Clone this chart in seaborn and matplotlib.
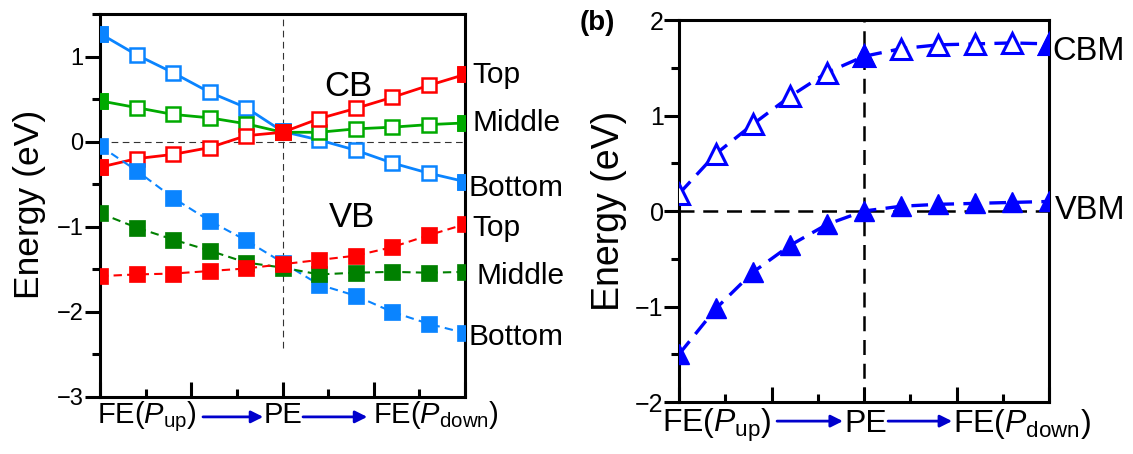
import numpy as np
import pandas as pd
import matplotlib
matplotlib.use("Agg")
import matplotlib.pyplot as plt
import seaborn as sns

# ---------------- data ----------------
steps = list(range(11))          # FE(P_up) ... PE (index 5) ... FE(P_down)
cb_bottom = [1.27, 1.02, 0.81, 0.58, 0.40, 0.12, 0.02, -0.10, -0.25, -0.37, -0.47]
cb_middle = [0.48, 0.40, 0.32, 0.28, 0.21, 0.11, 0.11, 0.15, 0.17, 0.20, 0.22]
cb_top    = [-0.30, -0.20, -0.15, -0.07, 0.07, 0.11, 0.27, 0.39, 0.52, 0.66, 0.79]
vb_bottom = [-0.05, -0.34, -0.66, -0.93, -1.16, -1.42, -1.68, -1.81, -2.00, -2.14, -2.25]
vb_middle = [-0.84, -1.01, -1.15, -1.28, -1.42, -1.48, -1.56, -1.54, -1.53, -1.54, -1.53]
vb_top    = [-1.58, -1.56, -1.55, -1.52, -1.49, -1.44, -1.39, -1.34, -1.24, -1.10, -0.97]
cbm = [0.18, 0.60, 0.91, 1.20, 1.45, 1.62, 1.70, 1.74, 1.75, 1.76, 1.75]
vbm = [-1.50, -1.02, -0.64, -0.36, -0.14, 0.00, 0.05, 0.07, 0.08, 0.09, 0.10]
filled_cb_idx = [0, 5, 10]
filled_cbm_idx = [5, 10]
band_labels = ["Top", "Middle", "Bottom"]
xtick_labels = ["FE($P_{\\rm up}$)", "PE", "FE($P_{\\rm down}$)"]

C_BLUE = "#0A84FF"
C_GREEN_CB = "#00AA00"
C_GREEN_VB = "#008000"
C_RED = "#FF0000"
C_DBLUE = "#0000FF"
C_ARROW = "#0000CC"

sns.set_style("ticks")
plt.rcParams["font.family"] = ["Liberation Sans", "DejaVu Sans"]
plt.rcParams["mathtext.fontset"] = "custom"
plt.rcParams["mathtext.rm"] = "Liberation Sans"
plt.rcParams["mathtext.it"] = "Liberation Sans:italic"
plt.rcParams["mathtext.bf"] = "Liberation Sans:bold"
for k in ["text.color", "axes.labelcolor", "xtick.color", "ytick.color",
          "axes.edgecolor"]:
    plt.rcParams[k] = "black"

fig = plt.figure(figsize=(11.33, 4.54), dpi=100)
ax1 = fig.add_axes([0.0883, 0.1256, 0.3222, 0.8436])
ax2 = fig.add_axes([0.5993, 0.1145, 0.3266, 0.8414])

def sub(vals, idx):
    return [steps[i] for i in idx], [vals[i] for i in idx]

# ---------------- panel (a) ----------------
ax1.axhline(0, color="#333333", lw=0.8, dashes=(6, 4), zorder=1)
ax1.plot([5, 5], [-2.42, 1.5], color="#333333", lw=0.8, dashes=(6, 4), zorder=1)

for vals, col in [(cb_bottom, C_BLUE), (cb_middle, C_GREEN_CB), (cb_top, C_RED)]:
    sns.lineplot(x=steps, y=vals, ax=ax1, color=col, lw=2.0, marker="s",
                 markersize=10, markerfacecolor="white", markeredgecolor=col,
                 markeredgewidth=1.8, zorder=3)
    fx, fy = sub(vals, filled_cb_idx)
    sns.lineplot(x=fx, y=fy, ax=ax1, color=col, linestyle="none", marker="s",
                 markersize=11, markerfacecolor=col, markeredgecolor=col,
                 markeredgewidth=0.5, zorder=3)

for vals, col in [(vb_bottom, C_BLUE), (vb_middle, C_GREEN_VB), (vb_top, C_RED)]:
    sns.lineplot(x=steps, y=vals, ax=ax1, color=col, lw=1.5, dashes=(4, 2.5),
                 marker="s", markersize=11, markerfacecolor=col,
                 markeredgecolor=col, markeredgewidth=0.5, zorder=4)

ax1.set_xlim(0, 10)
ax1.set_ylim(-3, 1.5)
ax1.set_yticks([-3, -2, -1, 0, 1])
ax1.set_yticks(np.arange(-3, 1.51, 0.5), minor=True)

ax1.text(6.8, 0.65, "CB", fontsize=25, ha="center", va="center")
ax1.text(6.9, -0.89, "VB", fontsize=25, ha="center", va="center")
lab_pos = [(10.2, 0.78), (10.2, 0.22), (10.1, -0.55),
           (10.2, -1.02), (10.3, -1.58), (10.1, -2.29)]
for (lx, ly), lab in zip(lab_pos, band_labels * 2):
    ax1.text(lx, ly, lab, fontsize=21.5, ha="left", va="center", clip_on=False)

ax1.set_ylabel("Energy (eV)", fontsize=25.5, rotation=90, ha="center",
               va="center", rotation_mode="default")
ax1.yaxis.set_label_coords(-0.192, 0.504)

# ---------------- panel (b) ----------------
ax2.axhline(0, color="black", lw=1.8, dashes=(6, 3.5), zorder=1)
ax2.axvline(5, color="black", lw=1.8, dashes=(6, 3.5), zorder=1)

sns.lineplot(x=steps, y=cbm, ax=ax2, color=C_DBLUE, lw=2.4, dashes=(5, 2.8),
             marker="^", markersize=14, markerfacecolor="white",
             markeredgecolor=C_DBLUE, markeredgewidth=2.2, zorder=3)
fx, fy = sub(cbm, filled_cbm_idx)
sns.lineplot(x=fx, y=fy, ax=ax2, color=C_DBLUE, linestyle="none", marker="^",
             markersize=14, markerfacecolor=C_DBLUE, markeredgecolor=C_DBLUE,
             markeredgewidth=2.2, zorder=3)
sns.lineplot(x=steps, y=vbm, ax=ax2, color=C_DBLUE, lw=2.4, dashes=(5, 2.8),
             marker="^", markersize=14, markerfacecolor=C_DBLUE,
             markeredgecolor=C_DBLUE, markeredgewidth=1.0, zorder=3)

ax2.set_xlim(0, 10)
ax2.set_ylim(-2, 2)
ax2.set_yticks([-2, -1, 0, 1, 2])
ax2.set_yticks(np.arange(-2, 2.01, 0.5), minor=True)
ax2.text(10.08, 1.675, "CBM", fontsize=23.5, ha="left", va="center", clip_on=False)
ax2.text(10.15, 0.01, "VBM", fontsize=23.5, ha="left", va="center", clip_on=False)
ax2.set_ylabel("Energy (eV)", fontsize=27, rotation=90, ha="center",
               va="center", rotation_mode="default")
ax2.yaxis.set_label_coords(-0.189, 0.5)
fig.text(0.512, 0.949, "(b)", fontsize=20, fontweight="bold", ha="left", va="center")

# ---------------- common axis styling ----------------
for ax in (ax1, ax2):
    ax.set_xticks([0, 2.5, 5, 7.5, 10])
    ax.set_xticks([1.25, 3.75, 6.25, 8.75], minor=True)
    ax.tick_params(axis="x", which="both", direction="in", labelbottom=False,
                   width=2.2)
    ax.tick_params(axis="x", which="major", length=11)
    ax.tick_params(axis="x", which="minor", length=5.5)
    ax.tick_params(axis="y", which="both", direction="out", width=2.2, pad=1)
    ax.tick_params(axis="y", which="major", length=11)
    ax.tick_params(axis="y", which="minor", length=5.5)
    for s in ax.spines.values():
        s.set_linewidth(2.2)
        s.set_visible(True)
        s.set_color("black")
    ax.set_xlabel("")
ax1.tick_params(axis="y", labelsize=17)
ax2.tick_params(axis="y", labelsize=18, pad=0)

# x "tick labels" with arrows
def path_labels(ax, fs, ytxt, yarr, x_left, x_pe, x_right, arr1, arr2):
    tr = ax.get_xaxis_transform()
    ax.text(x_left, ytxt, xtick_labels[0], transform=tr, fontsize=fs,
            ha="left", va="baseline", clip_on=False)
    ax.text(x_pe, ytxt, xtick_labels[1], transform=tr, fontsize=fs,
            ha="center", va="baseline", clip_on=False)
    ax.text(x_right, ytxt, xtick_labels[2], transform=tr, fontsize=fs,
            ha="left", va="baseline", clip_on=False)
    for a0, a1 in (arr1, arr2):
        ax.annotate("", xy=(a1, yarr), xytext=(a0, yarr), xycoords=tr,
                    textcoords=tr, annotation_clip=False,
                    arrowprops=dict(arrowstyle="-|>", color=C_ARROW, lw=2.0,
                                    mutation_scale=18, shrinkA=0, shrinkB=0))

path_labels(ax1, 21, -0.068, -0.052, -0.08, 5.0, 7.48, (2.82, 4.47), (5.56, 7.32))
path_labels(ax2, 23, -0.0785, -0.050, -0.46, 5.05, 7.40, (2.65, 4.43), (5.65, 7.38))

fig.savefig("out.png", dpi=100)
